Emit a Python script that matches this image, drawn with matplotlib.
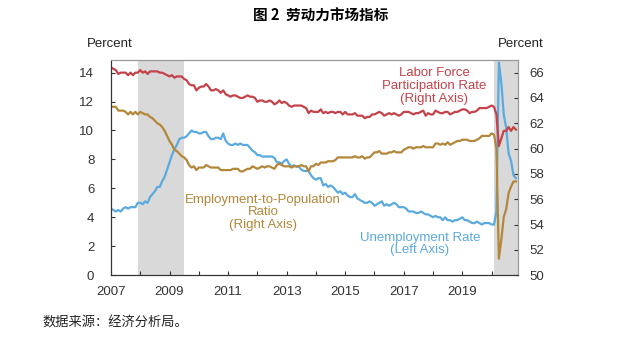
import numpy as np
import pandas as pd
import matplotlib
matplotlib.use("Agg")
import matplotlib.pyplot as plt

plt.rcParams["font.family"] = ["Liberation Sans", "Noto Sans CJK SC", "DejaVu Sans"]

# Datos mensuales, ene 2007 - nov 2020
meses = pd.date_range("2007-01-01", "2020-11-01", freq="MS")

desempleo = [
    4.6, 4.5, 4.4, 4.5, 4.4, 4.6, 4.7, 4.6, 4.7, 4.7, 4.7, 5.0,
    5.0, 4.9, 5.1, 5.0, 5.4, 5.6, 5.8, 6.1, 6.1, 6.5, 6.8, 7.3,
    7.8, 8.3, 8.7, 9.0, 9.4, 9.5, 9.5, 9.6, 9.8, 10.0, 9.9, 9.9,
    9.8, 9.8, 9.9, 9.9, 9.6, 9.4, 9.4, 9.5, 9.5, 9.4, 9.8, 9.3,
    9.1, 9.0, 9.0, 9.1, 9.0, 9.1, 9.0, 9.0, 9.0, 8.8, 8.6, 8.5,
    8.3, 8.3, 8.2, 8.2, 8.2, 8.2, 8.2, 8.1, 7.8, 7.8, 7.7, 7.9,
    8.0, 7.7, 7.5, 7.6, 7.5, 7.5, 7.3, 7.2, 7.2, 7.2, 6.9, 6.7,
    6.6, 6.7, 6.7, 6.2, 6.3, 6.1, 6.2, 6.1, 5.9, 5.7, 5.8, 5.6,
    5.7, 5.5, 5.4, 5.4, 5.6, 5.3, 5.2, 5.1, 5.0, 5.0, 5.1, 5.0,
    4.8, 4.9, 5.0, 5.1, 4.8, 4.9, 4.8, 4.9, 5.0, 4.9, 4.7, 4.7,
    4.7, 4.6, 4.4, 4.4, 4.4, 4.3, 4.3, 4.4, 4.3, 4.2, 4.2, 4.1,
    4.0, 4.1, 4.0, 4.0, 3.8, 4.0, 3.8, 3.8, 3.7, 3.8, 3.8, 3.9,
    4.0, 3.8, 3.8, 3.7, 3.6, 3.6, 3.7, 3.6, 3.5, 3.6, 3.6, 3.6,
    3.5, 3.5, 4.4, 14.7, 13.3, 11.1, 10.2, 8.4, 7.9, 6.9, 6.7,
]

participacion = [
    66.4, 66.3, 66.2, 65.9, 66.0, 66.0, 66.0, 65.8, 66.0, 65.8, 66.0, 66.0,
    66.2, 66.0, 66.1, 65.9, 66.1, 66.1, 66.1, 66.1, 66.0, 66.0, 65.9, 65.8,
    65.7, 65.8, 65.6, 65.7, 65.7, 65.7, 65.5, 65.4, 65.1, 65.0, 65.0, 64.6,
    64.8, 64.9, 64.9, 65.1, 64.9, 64.6, 64.6, 64.7, 64.6, 64.4, 64.6, 64.3,
    64.2, 64.1, 64.2, 64.2, 64.1, 64.0, 64.0, 64.1, 64.2, 64.1, 64.1, 64.0,
    63.7, 63.8, 63.8, 63.7, 63.7, 63.8, 63.7, 63.5, 63.6, 63.8, 63.6, 63.7,
    63.6, 63.4, 63.3, 63.4, 63.4, 63.4, 63.4, 63.3, 63.2, 62.8, 63.0, 62.9,
    62.9, 62.9, 63.1, 62.8, 62.9, 62.8, 62.9, 62.9, 62.8, 62.9, 62.9, 62.7,
    62.9, 62.7, 62.7, 62.7, 62.8, 62.6, 62.6, 62.6, 62.4, 62.5, 62.5, 62.7,
    62.7, 62.8, 62.9, 62.8, 62.6, 62.7, 62.8, 62.7, 62.8, 62.7, 62.6, 62.7,
    62.9, 62.9, 62.9, 62.8, 62.7, 62.8, 62.8, 62.9, 63.0, 62.6, 62.8, 62.7,
    62.7, 63.0, 62.9, 62.8, 62.8, 62.9, 62.9, 62.7, 62.8, 62.9, 62.9, 63.0,
    63.1, 63.1, 63.0, 62.8, 62.9, 62.9, 63.0, 63.2, 63.2, 63.2, 63.2, 63.3,
    63.4, 63.3, 62.7, 60.2, 60.8, 61.4, 61.4, 61.7, 61.4, 61.7, 61.5,
]

empleo_poblacion = [
    63.3, 63.3, 63.3, 63.0, 63.0, 63.0, 62.9, 62.7, 62.9, 62.7, 62.9, 62.7,
    62.9, 62.8, 62.7, 62.7, 62.5, 62.4, 62.2, 62.0, 61.9, 61.7, 61.4, 61.0,
    60.6, 60.3, 59.9, 59.8, 59.6, 59.4, 59.3, 59.1, 58.7, 58.5, 58.6, 58.3,
    58.5, 58.5, 58.5, 58.7, 58.6, 58.5, 58.5, 58.5, 58.5, 58.3, 58.3, 58.3,
    58.3, 58.3, 58.4, 58.4, 58.4, 58.2, 58.2, 58.3, 58.4, 58.4, 58.6, 58.5,
    58.4, 58.5, 58.6, 58.5, 58.6, 58.6, 58.5, 58.4, 58.7, 58.8, 58.7, 58.6,
    58.6, 58.6, 58.5, 58.6, 58.6, 58.6, 58.7, 58.6, 58.6, 58.2, 58.6, 58.6,
    58.8, 58.7, 58.9, 58.9, 58.9, 59.0, 59.0, 59.0, 59.1, 59.3, 59.3, 59.3,
    59.3, 59.3, 59.3, 59.3, 59.4, 59.3, 59.3, 59.4, 59.2, 59.3, 59.3, 59.5,
    59.7, 59.7, 59.8, 59.6, 59.6, 59.6, 59.7, 59.7, 59.8, 59.7, 59.7, 59.7,
    59.9, 60.0, 60.1, 60.1, 60.0, 60.1, 60.1, 60.1, 60.2, 60.1, 60.1, 60.1,
    60.1, 60.4, 60.4, 60.3, 60.4, 60.3, 60.5, 60.3, 60.4, 60.5, 60.6, 60.6,
    60.7, 60.7, 60.7, 60.6, 60.6, 60.6, 60.7, 60.8, 61.0, 61.0, 61.0, 61.0,
    61.2, 61.1, 60.0, 51.3, 52.8, 54.6, 55.2, 56.5, 57.0, 57.4, 57.4,
]

# Recesiones (anio fraccional)
recesiones = [(2007.917, 2009.5), (2020.08, 2020.95)]

anios_ticks = list(range(2007, 2021))
anios_etiquetas = [str(a) if a % 2 == 1 else "" for a in anios_ticks]

ROJO = "#C4424A"
AZUL = "#5BAADF"
ORO = "#B3873A"
GRIS = "#D9D9D9"

x = meses.year + (meses.month - 1) / 12.0

fig = plt.figure(figsize=(6.27, 3.55), dpi=100)
ax = fig.add_axes([0.177, 0.225, 0.649, 0.606])
ax2 = ax.twinx()

for ini, fin in recesiones:
    ax.axvspan(ini, fin, color=GRIS, lw=0, zorder=0)

ax.plot(x, desempleo, color=AZUL, lw=1.6, zorder=3)
ax2.plot(x, participacion, color=ROJO, lw=1.6)
ax2.plot(x, empleo_poblacion, color=ORO, lw=1.6)

ax.set_xlim(2007, 2020.9)
ax.set_ylim(0, 14.875)
ax2.set_ylim(50, 67)
ax.set_yticks(range(0, 15, 2))
ax2.set_yticks(range(50, 67, 2))
ax.set_xticks(anios_ticks)
ax.set_xticklabels(anios_etiquetas)

for a in (ax, ax2):
    a.tick_params(direction="in", length=3, width=0.8, labelsize=9.5, colors="#333333")
    for s in a.spines.values():
        s.set_linewidth(0.8)
    a.spines["top"].set_color("#999999")
    a.spines["right"].set_color("#999999")
    a.spines["left"].set_color("#333333")
    a.spines["bottom"].set_color("#333333")
ax.tick_params(axis="y", pad=12)
ax2.tick_params(axis="y", pad=8)
ax.tick_params(axis="x", pad=8)

# Etiquetas de series
ax2.text(2018.05, 64.95, "Labor Force\nParticipation Rate\n(Right Axis)", color=ROJO,
         ha="center", va="center", fontsize=9.5, linespacing=1.1)
ax2.text(2012.2, 54.95, "Employment-to-Population\nRatio\n(Right Axis)", color=ORO,
         ha="center", va="center", fontsize=9.5, linespacing=1.1)
ax.text(2017.55, 2.15, "Unemployment Rate\n(Left Axis)", color=AZUL,
        ha="center", va="center", fontsize=9.5, linespacing=1.1)

fig.text(0.175, 0.876, "Percent", ha="center", va="center", fontsize=9.5, color="#222222")
fig.text(0.830, 0.876, "Percent", ha="center", va="center", fontsize=9.5, color="#222222")
fig.text(0.512, 0.955, "图 2  劳动力市场指标", ha="center", va="center",
         fontsize=10.5, fontweight="bold", family=["Noto Sans CJK SC", "DejaVu Sans"])
fig.text(0.067, 0.09, "数据来源：经济分析局。", ha="left", va="center", fontsize=9.5,
         family=["Noto Sans CJK SC", "DejaVu Sans"], color="#222222")

fig.savefig("out.png", dpi=100)
